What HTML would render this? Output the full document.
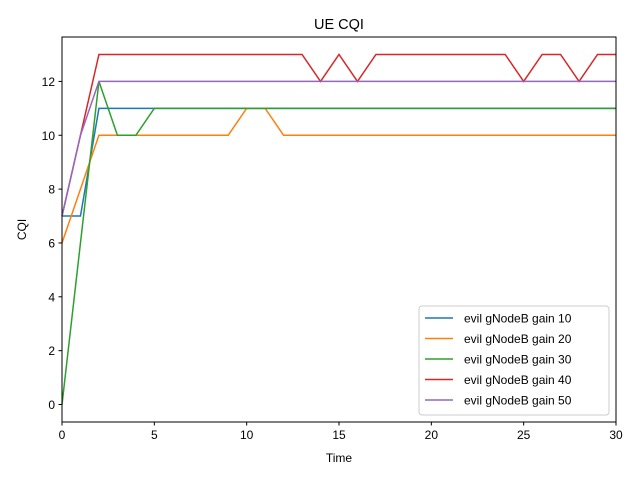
<!DOCTYPE html>
<html><head><meta charset="utf-8"><style>
body{margin:0;background:#fff}svg text{font-family:"Liberation Sans","DejaVu Sans",sans-serif}
</style></head><body>
<svg id="c" width="640" height="480"></svg>
<script>
const times=[...Array(31).keys()];
const gain10=[7,7,11,11,11,11,11,11,11,11,11,11,11,11,11,11,11,11,11,11,11,11,11,11,11,11,11,11,11,11,11];
const gain20=[6,8,10,10,10,10,10,10,10,10,11,11,10,10,10,10,10,10,10,10,10,10,10,10,10,10,10,10,10,10,10];
const gain30=[0,6,12,10,10,11,11,11,11,11,11,11,11,11,11,11,11,11,11,11,11,11,11,11,11,11,11,11,11,11,11];
const gain40=[7,10,13,13,13,13,13,13,13,13,13,13,13,13,12,13,12,13,13,13,13,13,13,13,13,12,13,13,12,13,13];
const gain50=[7,10,12,12,12,12,12,12,12,12,12,12,12,12,12,12,12,12,12,12,12,12,12,12,12,12,12,12,12,12,12];
const seriesNames=["evil gNodeB gain 10","evil gNodeB gain 20","evil gNodeB gain 30","evil gNodeB gain 40","evil gNodeB gain 50"];
const xTicks=[0,5,10,15,20,25,30];
const yTicks=[0,2,4,6,8,10,12];
const colors=["#1f77b4","#ff7f0e","#2ca02c","#d62728","#9467bd"];
const L=62,R=616,T=37,B=422,xmin=0,xmax=30,ymin=-0.65,ymax=13.65;
const X=v=>L+(v-xmin)/(xmax-xmin)*(R-L);
const Y=v=>B-(v-ymin)/(ymax-ymin)*(B-T);
const svg=document.getElementById('c');const NS="http://www.w3.org/2000/svg";
function mk(t,a,txt){const e=document.createElementNS(NS,t);for(const k in a)e.setAttribute(k,a[k]);if(txt!==undefined)e.textContent=txt;svg.appendChild(e);return e;}
const data=[gain10,gain20,gain30,gain40,gain50];
data.forEach((s,i)=>{
const p=mk('polyline',{points:s.map((v,j)=>X(times[j])+','+Y(v)).join(' '),fill:'none',stroke:colors[i],'stroke-width':1.5});


});
const fr=mk('rect',{x:L,y:T,width:R-L,height:B-T,fill:'none',stroke:'#000','stroke-width':1});


xTicks.forEach(v=>{mk('line',{x1:X(v),x2:X(v),y1:B,y2:B+3.5,stroke:'#000'});
const t=mk('text',{x:X(v),y:B+17,'font-size':12,'text-anchor':'middle'},v);

});
yTicks.forEach(v=>{mk('line',{x1:L-3.5,x2:L,y1:Y(v),y2:Y(v),stroke:'#000'});
const t=mk('text',{x:L-7,y:Y(v)+4.5,'font-size':12,'text-anchor':'end'},v);

});
let t=mk('text',{x:(L+R)/2,y:29,'font-size':14.5,'text-anchor':'middle'},'UE CQI');


t=mk('text',{x:(L+R)/2,y:462,'font-size':12,'text-anchor':'middle'},'Time');


t=mk('text',{x:26,y:(T+B)/2,'font-size':12,'text-anchor':'middle',transform:'rotate(-90 26 '+(T+B)/2+')'},'CQI');


const lg=mk('rect',{x:419,y:306,width:190,height:109,rx:3,fill:'#fff','fill-opacity':0.8,stroke:'#ccc'});


seriesNames.forEach((n,i)=>{const y=318+i*20.5;
mk('line',{x1:425,x2:453,y1:y,y2:y,stroke:colors[i],'stroke-width':1.5});
const e=mk('text',{x:464,y:y+4.5,'font-size':12},n);

});
</script>
</body></html>
